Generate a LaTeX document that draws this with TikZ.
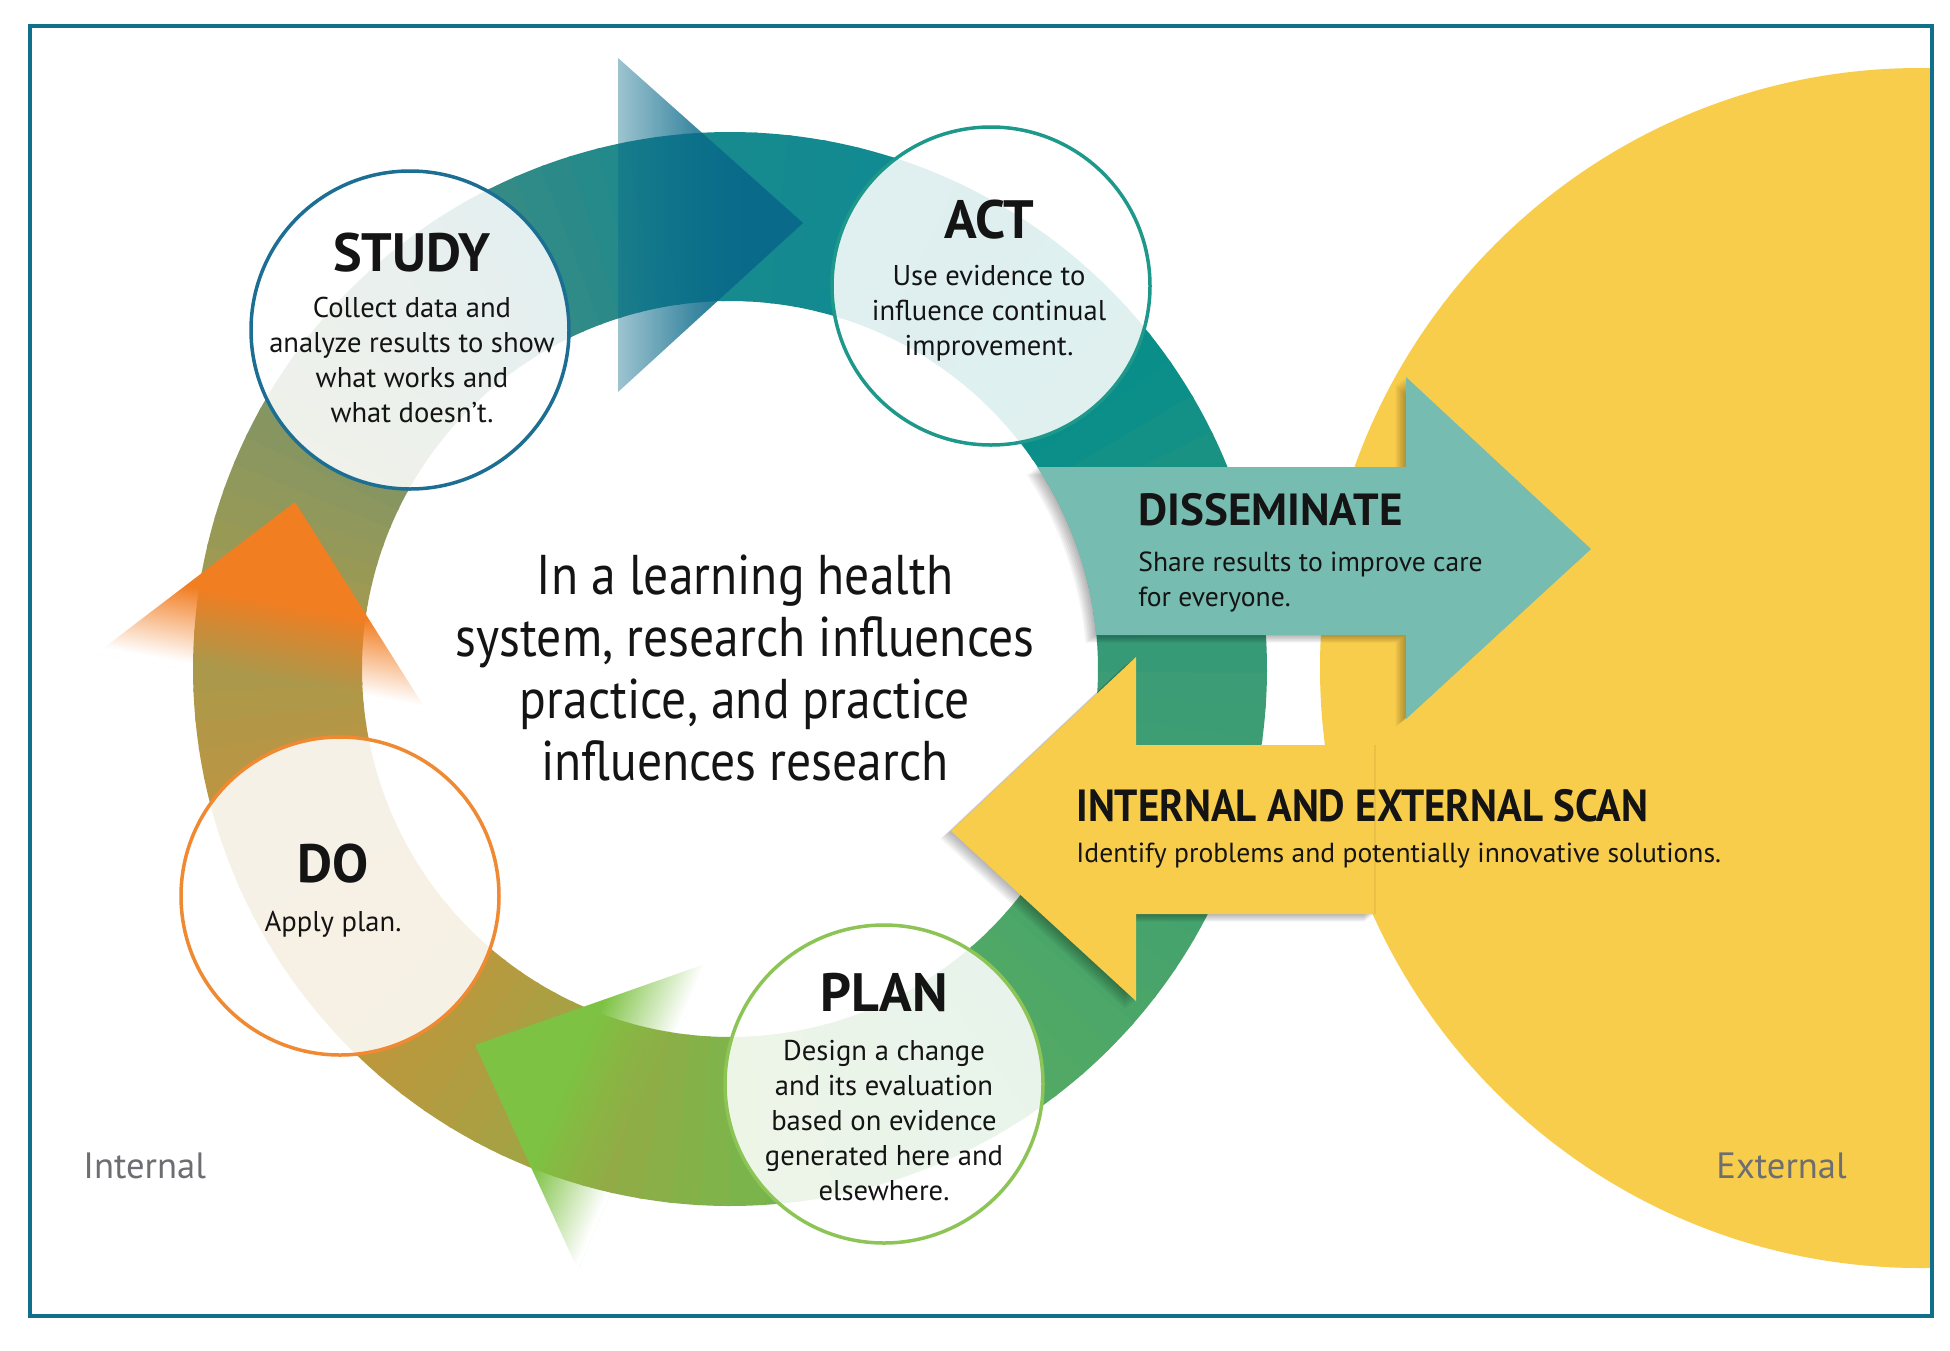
\documentclass[tikz,border=0pt]{standalone}
\usepackage{fontspec}
\setmainfont{PT Sans}
\newfontfamily\centrefont{PT Sans}[FakeStretch=0.885]
\newfontfamily\scanfont{PT Sans}[FakeStretch=0.91]
\usetikzlibrary{fadings}
\definecolor{frameC}{HTML}{0F6F8C}
\definecolor{sunC}{HTML}{F9CD4C}
\definecolor{dissC}{HTML}{77BCB1}
\definecolor{topC}{HTML}{0A6A8A}
\definecolor{orC}{HTML}{F27E22}
\definecolor{grC}{HTML}{7DC242}
\definecolor{studyC}{HTML}{1C6F93}
\definecolor{actC}{HTML}{1E988A}
\definecolor{doC}{HTML}{EF8A33}
\definecolor{planC}{HTML}{8CC456}
\definecolor{labC}{HTML}{6D6E71}
\definecolor{txtC}{HTML}{141414}
\definecolor{rA}{HTML}{3A9B76}
\definecolor{rB}{HTML}{45A36C}
\definecolor{rC}{HTML}{56AB62}
\definecolor{rD}{HTML}{7DB54A}
\definecolor{rE}{HTML}{A6A244}
\definecolor{rF}{HTML}{C6933A}
\definecolor{rG}{HTML}{BC9642}
\definecolor{rH}{HTML}{A09A52}
\definecolor{rI}{HTML}{7C9568}
\definecolor{rJ}{HTML}{3A8B84}
\definecolor{rK}{HTML}{188A8E}
\definecolor{rL}{HTML}{0F8A92}
\definecolor{rM}{HTML}{0A8E8A}
\pgfdeclarehorizontalshading{shTop}{100bp}{color(0bp)=(black); color(20bp)=(black!70); color(45bp)=(black!22); color(60bp)=(white); color(100bp)=(white)}
\pgfdeclarefading{fdTop}{\pgfuseshading{shTop}}
\pgfdeclarehorizontalshading{shGreen}{100bp}{color(0bp)=(white); color(55bp)=(white); color(98bp)=(black); color(100bp)=(black)}
\pgfdeclarefading{fdGreen}{\pgfuseshading{shGreen}}
\pgfdeclarehorizontalshading{shOrange}{100bp}{color(0bp)=(white); color(55bp)=(white); color(96bp)=(black); color(100bp)=(black)}
\pgfdeclarefading{fdOrange}{\pgfuseshading{shOrange}}
\newcommand\ringseg[4]{%
  \foreach \k in {0,...,7}{%
    \pgfmathsetmacro\aa{#1+(#2-#1)*\k/8}%
    \pgfmathsetmacro\bb{#1+(#2-#1)*(\k+1)/8+0.4}%
    \pgfmathtruncatemacro\pp{100-(\k+0.5)*100/8}%
    \fill[#3!\pp!#4] (\aa:368) arc[start angle=\aa,end angle=\bb,radius=368]
      -- (\bb:537) arc[start angle=\bb,end angle=\aa,radius=537] -- cycle;
  }}
\def\dissPath{(1038,467) -- (1406,467) -- (1406,377) -- (1591,549) -- (1406,719) -- (1406,635) -- (1096,635) arc[start angle=-5.3,end angle=-33.3,radius=368] -- cycle}
\def\scanPath{(951,831) -- (1136,657) -- (1136,745) -- (1375,745) -- (1375,914) -- (1136,914) -- (1136,1001) -- cycle}
\tikzset{
  stagecirc/.style={circle, minimum size=159pt, inner sep=0pt, fill=white, fill opacity=0.87, draw opacity=1, line width=1.75pt},
  ttl/.style={font=\bfseries\fontsize{27}{30}\selectfont, text=txtC, inner sep=0pt, anchor=base},
  bodyt/.style={font=\fontsize{14.3}{17.5}\selectfont, text=txtC, inner sep=0pt, align=center, anchor=north},
  sidettl/.style={font=\bfseries\fontsize{22.5}{26}\selectfont, text=txtC, inner sep=0pt, anchor=base west},
  sidebody/.style={font=\fontsize{13.8}{17.5}\selectfont, text=txtC, inner sep=0pt, align=left, anchor=north west},
  lab/.style={font=\fontsize{18.3}{22}\selectfont, text=labC, inner sep=0pt, anchor=base west}
}
\begin{document}
\begin{tikzpicture}[x=0.5pt,y=-0.5pt]
\useasboundingbox (0,0) rectangle (1950,1350);
\fill[white] (0,0) rectangle (1950,1350);
% external sun
\begin{scope}
  \clip (32,28) rectangle (1930,1314);
  \fill[sunC] (1920,668) circle[radius=600];
\end{scope}
% ring
\begin{scope}[shift={(730,669)}]
  \ringseg{0}{30}{rA}{rB}
  \ringseg{30}{60}{rB}{rC}
  \ringseg{60}{90}{rC}{rD}
  \ringseg{90}{115}{rD}{rE}
  \ringseg{115}{140}{rE}{rF}
  \ringseg{140}{165}{rF}{rG}
  \ringseg{165}{190}{rG}{rH}
  \ringseg{190}{215}{rH}{rI}
  \ringseg{215}{240}{rI}{rJ}
  \ringseg{240}{265}{rJ}{rK}
  \ringseg{265}{295}{rK}{rL}
  \ringseg{295}{325}{rL}{rM}
  \ringseg{325}{360}{rM}{rA}
\end{scope}
% fading arrowheads
\fill[topC, path fading=fdTop, fit fading=true] (618,58) -- (803,223) -- (618,392) -- cycle;
\fill[grC, path fading=fdGreen, fit fading=false,
  fading transform={shift={(559,1081)}, rotate=-23, xscale=0.912, yscale=2.2}]
  (475,1045) -- (708,963) -- (578,1270) -- cycle;
\fill[orC, path fading=fdOrange, fit fading=false,
  fading transform={shift={(279,593)}, rotate=-100.3, xscale=0.917, yscale=2.2}]
  (295,502) -- (97,653) -- (428,713) -- cycle;
% stage circles
\node[stagecirc, draw=studyC] (study) at (410,330) {};
\node[stagecirc, draw=actC] (act) at (991,286) {};
\node[stagecirc, draw=doC] (do) at (340,896) {};
\node[stagecirc, draw=planC] (plan) at (884,1084) {};
% shadows
\foreach \k in {1,...,7}{
  \fill[black, fill opacity=0.045, shift={(-1.5*\k,1.1*\k)}] \dissPath;
  \fill[black, fill opacity=0.045, shift={(-1.5*\k,1.1*\k)}] \scanPath;
}
\fill[dissC] \dissPath;
\fill[sunC] \scanPath;
\draw[black, opacity=0.06, line width=0.6pt] (1375,745) -- (1375,914);
% texts
\node[ttl] (studyT) at (412,271) {STUDY};
\node[bodyt] (studyB) at (412,297) {Collect data and\\analyze results to show\\what works and\\what doesn’t.};
\node[ttl] (actT) at (989,238) {ACT};
\node[bodyt] (actB) at (989,265) {Use evidence to\\influence continual\\improvement.};
\node[ttl] (doT) at (333,882) {DO};
\node[ttl, font=\fontsize{14.3}{17.5}\selectfont] (doB) at (333,931) {Apply plan.};
\node[ttl] (planT) at (884,1011) {PLAN};
\node[bodyt] (planB) at (884,1040) {Design a change\\and its evaluation\\based on evidence\\generated here and\\elsewhere.};
\node[sidettl] (dissT) at (1138,525) {DISSEMINATE};
\node[sidebody] (dissB) at (1138,551) {Share results to improve care\\for everyone.};
\node[sidettl, font=\scanfont\bfseries\fontsize{22.5}{26}\selectfont] (scanT) at (1076,821) {INTERNAL AND EXTERNAL SCAN};
\node[sidettl, font=\fontsize{13.8}{17}\selectfont] (scanB) at (1076,862) {Identify problems and potentially innovative solutions.};
\node[font=\centrefont\fontsize{28}{31}\selectfont, text=txtC, align=center, anchor=north, inner sep=0pt] (centre) at (745,554)
  {In a learning health\\system, research influences\\practice, and practice\\influences research};
\node[lab] (internal) at (83,1178) {Internal};
\node[lab] (external) at (1716,1178) {External};
% frame
\draw[frameC, line width=2pt] (30,26) rectangle (1932,1316);
\end{tikzpicture}
\end{document}
